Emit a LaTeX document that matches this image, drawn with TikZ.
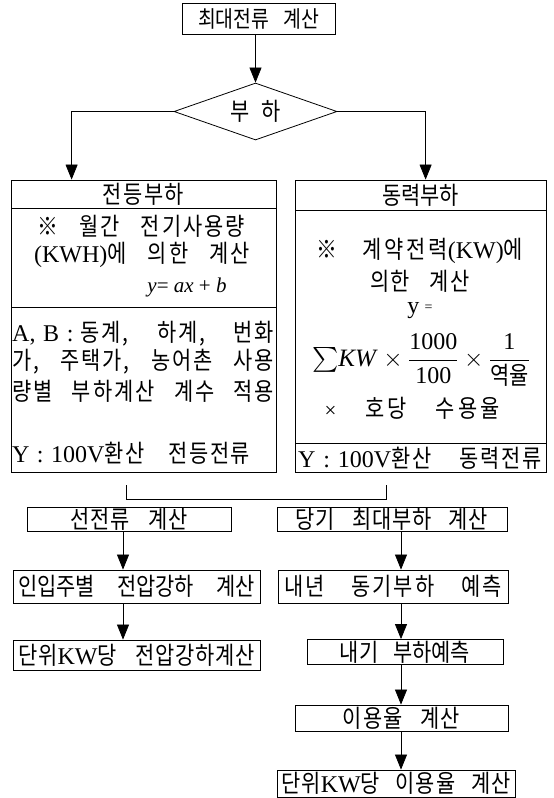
\documentclass[tikz,border=0pt]{standalone}
\usepackage{amsmath}
\usepackage{fontspec}
\setmainfont{Liberation Serif}
\newfontfamily\kr{Noto Sans CJK KR}[Scale=1.17,FakeStretch=0.85,WordSpace=3.2]
\usetikzlibrary{arrows.meta,shapes.geometric}
\newcommand\K[1]{{\kr #1}}
\newcommand\KL[2]{{\kr\addfontfeature{LetterSpace=#1}#2}}
\newcommand\LT[1]{{\fontsize{24}{26}\selectfont #1}}
\tikzset{
  box/.style={draw, line width=0.8pt, rectangle, inner sep=0pt},
  arr/.style={-{Triangle[length=15pt,width=12pt]}, line width=0.7pt},
  txt/.style={inner sep=0pt},
  every node/.style={font=\fontsize{21}{25}\selectfont}
}
\begin{document}
\begin{tikzpicture}[x=1pt,y=-1pt]
\useasboundingbox (0,0) rectangle (554,798);
% top
\node[box, minimum width=153pt, minimum height=31pt, font=\fontsize{19.5}{23}\selectfont] (top) at (258.5,18.5) {\K{최대전류 계산}};
\node[draw, diamond, aspect=2.86, minimum width=163pt, minimum height=57pt, inner sep=0pt, line width=0.8pt] (dia) at (255.5,111.5) {\K{부\hspace{12pt}하}};
\draw[arr] (top.south -| dia.north) -- (dia.north);
% big boxes
\node[box, minimum width=265pt, minimum height=28pt] (lhead) at (143.5,194) {\KL{6}{전등부하}};
\node[box, minimum width=265pt, minimum height=99pt] (lmid) at (143.5,257.5) {};
\node[box, minimum width=265pt, minimum height=165pt] (lbot) at (143.5,389.5) {};
\node[box, minimum width=251pt, minimum height=30pt] (rhead) at (420.5,195) {\K{동력부하}};
\node[box, minimum width=251pt, minimum height=233pt] (rmid) at (420.5,326.5) {};
\node[box, minimum width=251pt, minimum height=29pt] (rbot) at (420.5,457.5) {};
\draw[arr] (dia.west) -| ([xshift=61pt]lhead.north west);
\draw[arr] (dia.east) -| ([xshift=131pt]rhead.north west);
% left texts
\node[txt] (l1) at (141,226) {\KL{8}{※ 월간 전기사용량}};
\node[txt] (l2) at (142,255) {\LT{(KWH)}\KL{8}{에 의한 계산}};
\node[txt] (l3) at (187,287) {\fontsize{21}{23}\selectfont\textit{y}= \textit{ax} + \textit{b}};
\node[txt, anchor=west] (l4) at (12,334) {\makebox[262pt][s]{\LT{A, B :} \KL{8}{동계, 하계, 번화}}};
\node[txt, anchor=west] (l5) at (12,362) {\makebox[262pt][s]{\KL{8}{가, 주택가, 농어촌 사용}}};
\node[txt, anchor=west] (l6) at (12,391) {\makebox[262pt][s]{\KL{8}{량별 부하계산 계수 적용}}};
\node[txt, anchor=west] (l7) at (12,453) {\makebox[238pt][s]{\LT{Y : 100V}\KL{6}{환산 전등전류}}};
% right texts
\node[txt] (r1) at (420,251) {\KL{12}{※ 계약전력}\LT{(KW)}\KL{12}{에}};
\node[txt] (r2) at (420,281) {\KL{6}{의한 계산}};
\node[txt] (r3) at (420,311) {\LT{y} \raisebox{2pt}{\fontsize{14}{14}\selectfont =}};
\node[txt] (r4) at (421,360) {\fontsize{23}{27}\selectfont$\mbox{\fontsize{28}{28}\selectfont$\sum$}\mbox{\fontsize{25}{25}\selectfont\textit{KW}}\times\dfrac{\mbox{\fontsize{24}{24}\selectfont 1000}}{\mbox{\fontsize{24}{24}\selectfont 100}}\times\dfrac{\mbox{\fontsize{24}{24}\selectfont 1}}{\mbox{\fontsize{21}{21}\selectfont\K{역율}}}$};
\node[txt] (r5) at (412,408) {\makebox[175pt]{×\hfill\KL{12}{호당}\hfill\KL{12}{수용율}}};
\node[txt, anchor=west] (r6) at (298,458) {\makebox[244pt][s]{\LT{Y : 100V}\KL{8}{환산 동력전류}}};
% bracket
\coordinate (bl) at (126,485);
\coordinate (br) at (386,485);
\draw[line width=0.7pt] (bl) -- ++(0,14) -| (br);
% bottom left
\node[box, minimum width=204pt, minimum height=24pt] (n1) at (129,519.5) {\KL{4}{선전류 계산}};
\node[box, minimum width=247pt, minimum height=33pt] (n2) at (136.5,586.5) {\makebox[237pt][s]{\K{인입주별 전압강하 계산}}};
\node[box, minimum width=247pt, minimum height=30pt] (n3) at (136.5,655) {\makebox[236pt][s]{\KL{3}{단위}\LT{KW}\KL{3}{당 전압강하계산}}};
\coordinate (cx1) at (123,0);
\draw[arr] (n1.south -| cx1) -- (n2.north -| cx1);
\draw[arr] (n2.south -| cx1) -- (n3.north -| cx1);
% bottom right
\node[box, minimum width=230pt, minimum height=24pt] (m1) at (392,519.5) {\KL{3}{당기 최대부하 계산}};
\node[box, minimum width=230pt, minimum height=33pt] (m2) at (393,586.5) {\makebox[217pt][s]{\KL{8}{내년 동기부하 예측}}};
\node[box, minimum width=196pt, minimum height=25pt] (m3) at (405,652) {\K{내기 부하예측}};
\node[box, minimum width=213pt, minimum height=26pt] (m4) at (401.5,718) {\KL{4}{이용율 계산}};
\node[box, minimum width=238pt, minimum height=27pt] (m5) at (396,783.5) {\makebox[230pt][s]{\KL{6}{단위}\LT{KW}\KL{6}{당 이용율 계산}}};
\coordinate (cx2) at (401,0);
\draw[arr] (m1.south -| cx2) -- (m2.north -| cx2);
\draw[arr] (m2.south -| cx2) -- (m3.north -| cx2);
\draw[arr] (m3.south -| cx2) -- (m4.north -| cx2);
\draw[arr] (m4.south -| cx2) -- (m5.north -| cx2);
\end{tikzpicture}
\end{document}
